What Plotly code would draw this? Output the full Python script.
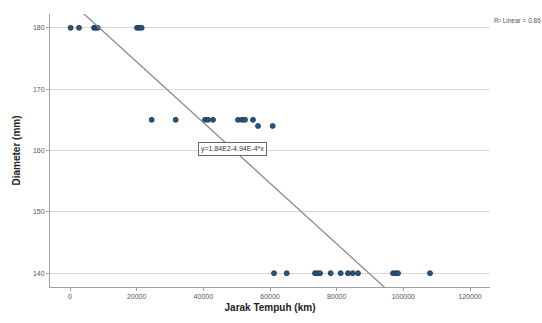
import numpy as np
import plotly.graph_objects as go

# Data (Jarak Tempuh in km, Diameter in mm)
jarak_180 = [200, 2700, 7200, 7700, 8300, 20100, 20800, 21500]
diam_180 = [180] * len(jarak_180)
jarak_165 = [24500, 31700, 40500, 41400, 42900, 50400, 51600, 52500, 54900]
diam_165 = [165] * len(jarak_165)
jarak_164 = [56400, 60800]
diam_164 = [164] * len(jarak_164)
jarak_140 = [61200, 65000, 73500, 74200, 75000, 78200, 81200, 83400, 84800,
             86400, 96900, 97800, 98400, 108000]
diam_140 = [140] * len(jarak_140)

x_ticks = [0, 20000, 40000, 60000, 80000, 100000, 120000]
y_ticks = [140, 150, 160, 170, 180]

x = np.array(jarak_180 + jarak_165 + jarak_164 + jarak_140, dtype=float)
y = np.array(diam_180 + diam_165 + diam_164 + diam_140, dtype=float)

slope, intercept = np.polyfit(x, y, 1)
pred = slope * x + intercept
r2 = 1 - np.sum((y - pred) ** 2) / np.sum((y - y.mean()) ** 2)

x_range = [-6000, 126000]
y_range = [137.75, 182.25]

fig = go.Figure()

fig.add_trace(go.Scatter(
    x=x, y=y, mode="markers",
    marker=dict(size=5, color="#2a5580", line=dict(color="#1b3550", width=0.8)),
    showlegend=False, hoverinfo="skip"))

lx = np.array(x_range, dtype=float)
fig.add_trace(go.Scatter(
    x=lx, y=slope * lx + intercept, mode="lines",
    line=dict(color="#8a8a8a", width=1.3),
    showlegend=False, hoverinfo="skip"))

def fmt_sci(v):
    s = "%.2E" % v
    mant, exp = s.split("E")
    mant = mant.rstrip("0").rstrip(".")
    return "%sE%d" % (mant, int(exp))

eq = "y=%s%s%s*x" % (fmt_sci(intercept), "-" if slope < 0 else "+", fmt_sci(abs(slope)))
xa = 48600
fig.add_annotation(
    x=xa, y=slope * xa + intercept, text=eq, showarrow=False,
    font=dict(size=7, color="#333333", family="Liberation Sans"),
    bgcolor="white", bordercolor="#666666", borderwidth=1, borderpad=2)

fig.add_annotation(
    xref="paper", yref="paper", x=1.005, y=0.978, xanchor="left", yanchor="middle",
    text="R² Linear = %.2f" % r2, showarrow=False,
    font=dict(size=6.5, color="#555555", family="Liberation Sans"))

fig.update_layout(
    width=542, height=323,
    margin=dict(l=50, r=52, t=14, b=32),
    paper_bgcolor="white", plot_bgcolor="white",
    font=dict(family="Liberation Sans", color="#333333"),
    xaxis=dict(
        range=x_range, tickmode="array", tickvals=x_ticks,
        ticktext=[str(v) for v in x_ticks],
        showgrid=False, zeroline=False, showline=True, linecolor="#a0a0a0", linewidth=1,
        ticks="outside", ticklen=3, tickcolor="#a0a0a0",
        tickfont=dict(size=7, color="#555555"),
        title=dict(text="<b>Jarak Tempuh (km)</b>", font=dict(size=10, color="#222222"), standoff=4)),
    yaxis=dict(
        range=y_range, tickmode="array", tickvals=y_ticks,
        ticktext=[str(v) for v in y_ticks],
        showgrid=True, gridcolor="#d8d8d8", gridwidth=1,
        zeroline=False, showline=True, linecolor="#a0a0a0", linewidth=1,
        ticks="outside", ticklen=3, tickcolor="#a0a0a0",
        tickfont=dict(size=7, color="#555555"),
        title=dict(text="<b>Diameter (mm)</b>", font=dict(size=10, color="#222222"), standoff=10)),
)

fig.write_html("out.html")
